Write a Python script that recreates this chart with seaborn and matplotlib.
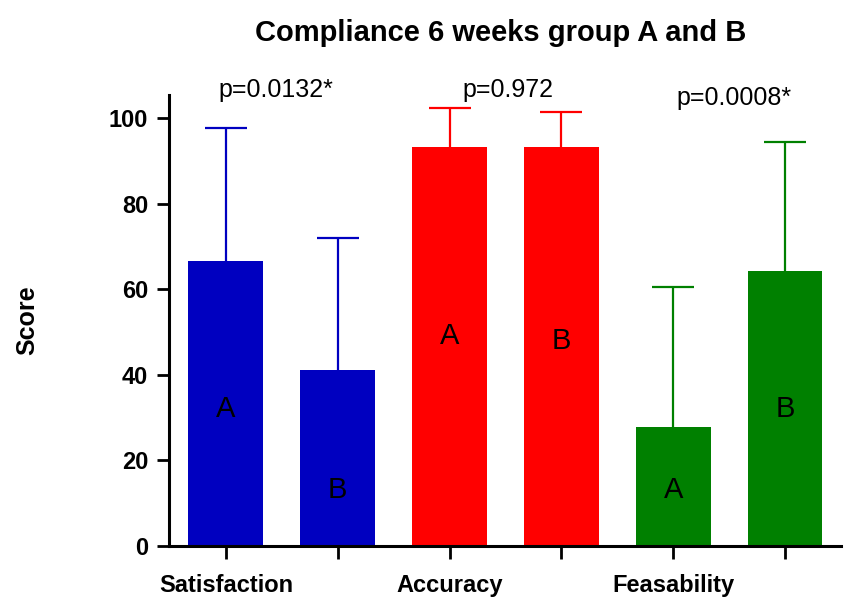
import numpy as np
import pandas as pd
import matplotlib
matplotlib.use("Agg")
import matplotlib.pyplot as plt
import seaborn as sns

# values
bars = ["Satisfaction A", "Satisfaction B", "Accuracy A", "Accuracy B", "Feasability A", "Feasability B"]
groups = ["A", "B", "A", "B", "A", "B"]
means = [66.6, 41.1, 93.2, 93.2, 27.8, 64.3]
sds = [31.1, 30.9, 9.1, 8.2, 32.7, 30.1]
colors = ["#0000C0", "#0000C0", "#FF0000", "#FF0000", "#008000", "#008000"]
tick_labels = ["Satisfaction", "", "Accuracy", "", "Feasability", ""]
letter_y = [32, 13, 49, 48, 13, 32]
pvals = ["p=0.0132*", "p=0.972", "p=0.0008*"]
pval_x = [0.45, 2.52, 4.54]
pval_y = [106.5, 106.5, 104.7]

df = pd.DataFrame({"bar": bars, "score": means})

sns.set_style("ticks")
plt.rcParams["font.family"] = ["Liberation Sans", "DejaVu Sans"]
plt.rcParams["text.color"] = "black"
plt.rcParams["axes.labelcolor"] = "black"
plt.rcParams["xtick.color"] = "black"
plt.rcParams["ytick.color"] = "black"
plt.rcParams["axes.edgecolor"] = "black"

fig, ax = plt.subplots(figsize=(8.66, 6), dpi=100)
fig.subplots_adjust(left=0.195, right=0.971, bottom=0.09, top=0.842)

sns.barplot(data=df, x="bar", y="score", hue="bar", palette=colors, width=0.67,
            errorbar=None, legend=False, saturation=1, linewidth=0, ax=ax)

for i in range(len(bars)):
    _, caps, _ = ax.errorbar(i, means[i], yerr=[[0], [sds[i]]], fmt="none", ecolor=colors[i],
                             elinewidth=1.6, capsize=15, capthick=1.6, zorder=1)
    # keep only the upper cap
    for c in caps:
        if np.allclose(c.get_ydata(), means[i]):
            c.set_visible(False)
    ax.text(i, letter_y[i], groups[i], ha="center", va="center", fontsize=21)

for t, x, y in zip(pvals, pval_x, pval_y):
    ax.text(x, y, t, ha="center", va="center", fontsize=18, clip_on=False)

ax.set_xlim(-0.51, 5.5)
ax.set_ylim(0, 105.4)
ax.set_yticks([0, 20, 40, 60, 80, 100])
ax.set_xticks(range(6))
ax.set_xticklabels(tick_labels, fontsize=17, fontweight="bold")
for lab in ax.get_yticklabels():
    lab.set_fontsize(17)
    lab.set_fontweight("bold")
ax.tick_params(axis="both", length=9, width=2, pad=6)
ax.tick_params(axis="x", pad=11)
for s in ["left", "bottom"]:
    ax.spines[s].set_linewidth(2.2)
sns.despine(ax=ax)

ax.set_xlabel("")
ax.set_ylabel("Score", fontsize=18, fontweight="bold", labelpad=50)
fig.text(0.578, 1 - 33 / 600, "Compliance 6 weeks group A and B", ha="center", va="center",
         fontsize=21, fontweight="bold")

fig.savefig("out.png", dpi=100)
